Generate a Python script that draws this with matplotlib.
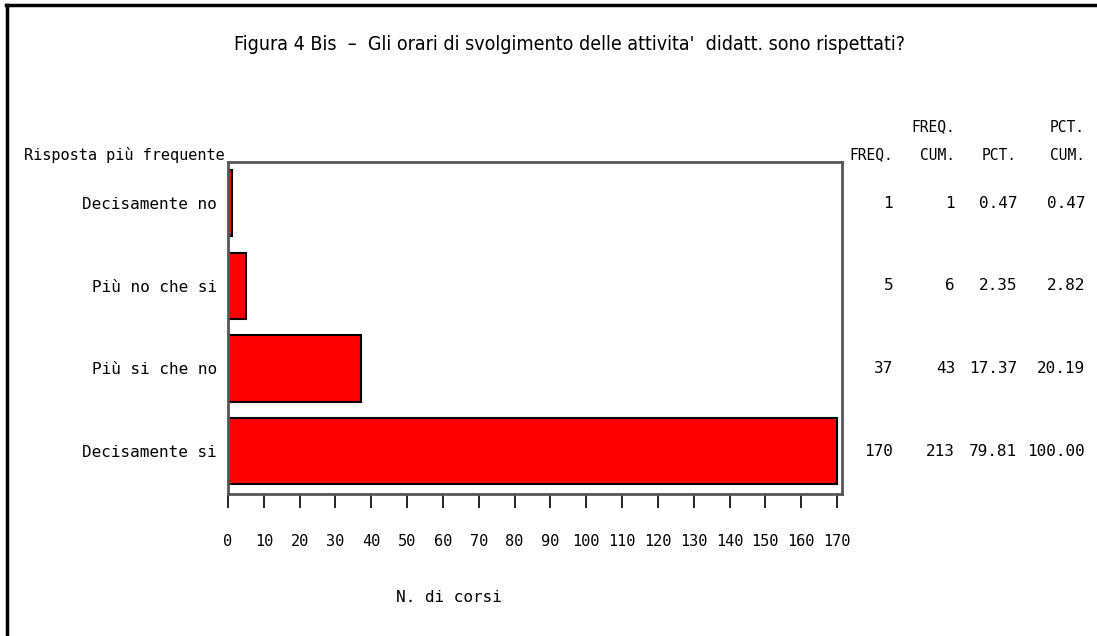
import matplotlib.pyplot as plt
from matplotlib.lines import Line2D
from matplotlib.transforms import blended_transform_factory

categories = ["Decisamente no", "Più no che si", "Più si che no", "Decisamente si"]
freq = [1, 5, 37, 170]
freq_cum = [1, 6, 43, 213]
pct = ["0.47", "2.35", "17.37", "79.81"]
pct_cum = ["0.47", "2.82", "20.19", "100.00"]
x_ticks = list(range(0, 171, 10))

W, H = 1097, 636
mono = "DejaVu Sans Mono"

fig = plt.figure(figsize=(W / 100, H / 100), dpi=100)
ax = fig.add_axes([228 / W, 1 - 494 / H, 614 / W, 332 / H])

ypos = list(range(len(categories)))
ax.barh(ypos, freq, height=0.8, color="#ff0000", edgecolor="black", linewidth=1.5)

ax.set_xlim(0, 171.4)
ax.set_ylim(3.52, -0.5)
ax.set_yticks(ypos)
ax.set_yticklabels(categories, fontfamily=mono, fontsize=11.5)
ax.tick_params(axis="y", length=0, pad=8)
ax.set_xticks(x_ticks)
ax.set_xticklabels([str(v) for v in x_ticks], fontfamily=mono, fontsize=11)
ax.tick_params(axis="x", direction="out", length=10, width=1.2, pad=19)
for sp in ax.spines.values():
    sp.set_color("#555555")
    sp.set_linewidth(2)

# header text
fig.text(24 / W, 1 - 155 / H, "Risposta più frequente", fontfamily=mono, fontsize=11,
         ha="left", va="center")
fig.text(570 / W, 1 - 45 / H,
         "Figura 4 Bis  \u2013  Gli orari di svolgimento delle attivita'  didatt. sono rispettati?",
         family="DejaVu Sans", stretch="condensed", fontsize=14, ha="center", va="center")
fig.text(449 / W, 1 - 597 / H, "N. di corsi", fontfamily=mono, fontsize=11.5,
         ha="center", va="center")

# statistics table on the right
col_x = [893, 955, 1017, 1085]
headers_top = ["", "FREQ.", "", "PCT."]
headers_bot = ["FREQ.", "CUM.", "PCT.", "CUM."]
for cx, t1, t2 in zip(col_x, headers_top, headers_bot):
    fig.text(cx / W, 1 - 127 / H, t1, fontfamily=mono, fontsize=10.5, ha="right", va="center")
    fig.text(cx / W, 1 - 155 / H, t2, fontfamily=mono, fontsize=10.5, ha="right", va="center")

row_tr = blended_transform_factory(fig.transFigure, ax.transData)
for i in ypos:
    row = [str(freq[i]), str(freq_cum[i]), pct[i], pct_cum[i]]
    for cx, val in zip(col_x, row):
        ax.text(cx / W, i, val, transform=row_tr, fontfamily=mono, fontsize=11.5,
                ha="right", va="center", clip_on=False)

# outer frame (left and top edges)
fig.add_artist(Line2D([7 / W, 7 / W], [0, 1 - 5 / H], transform=fig.transFigure,
                      color="black", linewidth=2.5))
fig.add_artist(Line2D([6 / W, 1], [1 - 5 / H, 1 - 5 / H], transform=fig.transFigure,
                      color="black", linewidth=2.5))

fig.savefig("out.png", dpi=100)
